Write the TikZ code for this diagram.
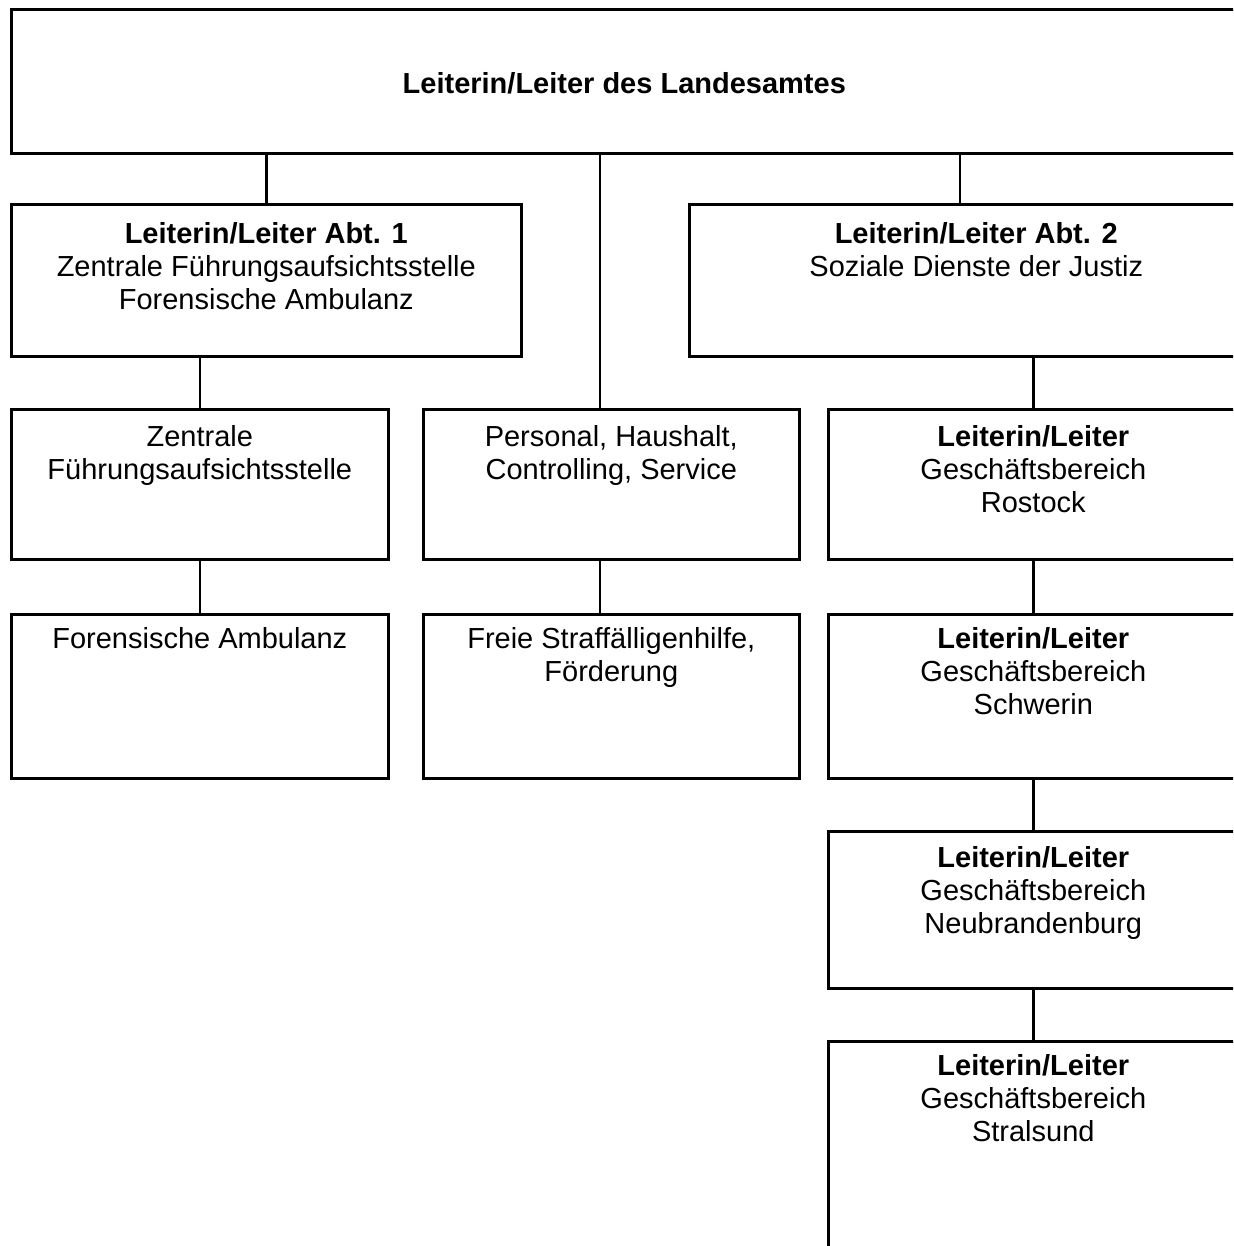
\documentclass[tikz,border=0pt]{standalone}
\usepackage{fontspec}
\setmainfont{Liberation Sans}
\usepackage{tikz}

% text block set at the top of a box: width, height, first baseline, text
\newcommand{\orgtext}[4]{\parbox[t][#2][t]{#1}{\centering\rule{0pt}{#3}#4}}

\begin{document}
\begin{tikzpicture}[x=1pt, y=-1pt,
    box/.style={draw, line width=2.6pt, inner sep=0pt, anchor=north west,
        font=\fontsize{29}{33}\selectfont},
    link/.style={line width=2.6pt}]
            \useasboundingbox (0,0) rectangle (1233,1246);
            \clip (0,0) rectangle (1233,1246);

            \node[box] (top) at (10,8) {\orgtext{1226pt}{144pt}{84pt}{\textbf{Leiterin/Leiter des Landesamtes}}};

            \node[box] (abt1) at (10,203) {\orgtext{510pt}{152pt}{39pt}{\textbf{Leiterin/Leiter Abt. 1}\\ Zentrale Führungsaufsichtsstelle\\ Forensische Ambulanz}};
            \node[box] (abt2) at (688,203) {\orgtext{574pt}{152pt}{39pt}{\textbf{Leiterin/Leiter Abt. 2}\\ Soziale Dienste der Justiz}};

            \node[box] (zentrale) at (10,408) {\orgtext{377pt}{150pt}{37pt}{Zentrale\\ Führungsaufsichtsstelle}};
            \node[box] (personal) at (422,408) {\orgtext{376pt}{150pt}{37pt}{Personal, Haushalt,\\ Controlling, Service}};
            \node[box] (rostock) at (827,408) {\orgtext{410pt}{150pt}{37pt}{\textbf{Leiterin/Leiter}\\ Geschäftsbereich\\ Rostock}};

            \node[box] (forensisch) at (10,613) {\orgtext{377pt}{164pt}{34pt}{Forensische Ambulanz}};
            \node[box] (freie) at (422,613) {\orgtext{376pt}{164pt}{34pt}{Freie Straffälligenhilfe,\\ Förderung}};
            \node[box] (schwerin) at (827,613) {\orgtext{410pt}{164pt}{34pt}{\textbf{Leiterin/Leiter}\\ Geschäftsbereich\\ Schwerin}};

            \node[box] (neubrandenburg) at (827,830) {\orgtext{410pt}{157pt}{36pt}{\textbf{Leiterin/Leiter}\\ Geschäftsbereich\\ Neubrandenburg}};
            \node[box] (stralsund) at (827,1040) {\orgtext{410pt}{260pt}{34pt}{\textbf{Leiterin/Leiter}\\ Geschäftsbereich\\ Stralsund}};

            \coordinate (midline) at (600,0);
            \coordinate (rightline) at (960,0);

            \draw[link] (top.south -| abt1.north) -- (abt1.north); % top-abt1
            \draw[link] (top.south -| midline) -- (personal.north -| midline); % top-personal
            \draw[link] (top.south -| rightline) -- (abt2.north -| rightline); % top-abt2
            \draw[link] (abt1.south -| zentrale.north) -- (zentrale.north); % abt1-zentrale
            \draw[link] (abt2.south -| rostock.north) -- (rostock.north); % abt2-rostock
            \draw[link] (zentrale.south) -- (forensisch.north); % zentrale-forensisch
            \draw[link] (personal.south -| midline) -- (freie.north -| midline); % personal-freie
            \draw[link] (rostock.south) -- (schwerin.north); % rostock-schwerin
            \draw[link] (schwerin.south) -- (neubrandenburg.north); % schwerin-neubrandenburg
            \draw[link] (neubrandenburg.south) -- (stralsund.north); % neubrandenburg-stralsund
\end{tikzpicture}
\end{document}
